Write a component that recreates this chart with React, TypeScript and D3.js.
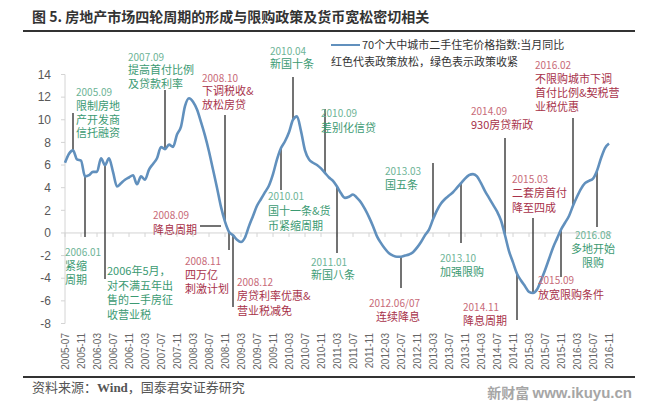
import * as d3 from 'd3';
import React from 'react';

// months 2005-07 .. 2016-11
const months: string[] = d3
  .timeMonths(new Date(2005, 6, 1), new Date(2016, 11, 1))
  .map(d3.timeFormat('%Y-%m'));

// 70个大中城市二手住宅价格指数:当月同比
const values: number[] = [
  6.2, 7.0, 7.3, 6.5, 6.4, 5.0, 5.1, 5.4, 5.4, 6.6, 6.0, 6.6, 5.4, 4.1, 4.4, 4.7,
  4.9, 5.1, 4.3, 5.0, 4.7, 5.6, 6.1, 6.6, 7.6, 7.4, 7.8, 7.6, 8.7, 9.4, 11.2, 11.9,
  11.6, 10.9, 9.8, 8.6, 7.2, 5.6, 4.0, 2.3, 1.0, 0.1, -0.2, -0.6, -0.8, -0.4, 0.6, 1.5,
  2.4, 3.0, 3.6, 4.2, 5.2, 6.5, 7.5, 8.1, 8.9, 10.0, 10.3, 9.0, 7.3, 6.5, 6.2, 6.0,
  5.7, 5.3, 4.9, 4.6, 4.1, 3.5, 3.1, 3.2, 3.4, 3.1, 2.7, 2.1, 1.4, 0.6, -0.3, -0.9,
  -1.4, -1.8, -2.0, -2.1, -2.1, -2.0, -1.9, -1.7, -1.3, -0.8, -0.2, 0.3, 1.2, 2.0, 2.6, 3.0,
  3.3, 3.6, 4.0, 4.4, 4.8, 5.1, 5.2, 5.0, 4.4, 3.7, 3.1, 2.5, 1.9, 1.1, -0.2, -1.6,
  -2.6, -3.6, -4.2, -4.7, -5.2, -5.3, -5.0, -4.2, -3.3, -2.3, -1.3, -0.5, 0.3, 0.9, 1.5, 2.4,
  3.2, 3.9, 4.4, 4.6, 4.8, 5.5, 6.6, 7.5, 7.9,
];

const yTicks: number[] = [-8, -6, -4, -2, 0, 2, 4, 6, 8, 10, 12, 14];
const xTickLabels: string[] = months.filter((_, i) => i % 4 === 0);

interface Note {
  date: string | null;
  lines: string[];
  loose: boolean; // red = 放松, green = 收紧
  at: string; // month where the pointer sits
}

const notes: Note[] = [
  { date: '2005.09', lines: ['限制房地', '产开发商', '信托融资'], loose: false, at: '2005-09' },
  { date: '2006.01', lines: ['紧缩', '周期'], loose: false, at: '2005-12' },
  { date: null, lines: ['2006年5月，', '对不满五年出', '售的二手房征', '收营业税'], loose: false, at: '2006-05' },
  { date: '2007.09', lines: ['提高首付比例', '及贷款利率'], loose: false, at: '2007-08' },
  { date: '2008.10', lines: ['下调税收&', '放松房贷'], loose: true, at: '2008-11' },
  { date: '2008.09', lines: ['降息周期'], loose: true, at: '2008-10' },
  { date: '2008.11', lines: ['四万亿', '刺激计划'], loose: true, at: '2008-12' },
  { date: '2008.12', lines: ['房贷利率优惠&', '营业税减免'], loose: true, at: '2009-01' },
  { date: '2010.04', lines: ['新国十条'], loose: false, at: '2010-04' },
  { date: '2010.01', lines: ['国十一条&货', '币紧缩周期'], loose: false, at: '2010-01' },
  { date: '2010.09', lines: ['差别化信贷'], loose: false, at: '2010-12' },
  { date: '2011.01', lines: ['新国八条'], loose: false, at: '2011-03' },
  { date: '2012.06/07', lines: ['连续降息'], loose: true, at: '2012-07' },
  { date: '2013.03', lines: ['国五条'], loose: false, at: '2013-03' },
  { date: '2013.10', lines: ['加强限购'], loose: false, at: '2013-10' },
  { date: '2014.09', lines: ['930房贷新政'], loose: true, at: '2014-09' },
  { date: '2014.11', lines: ['降息周期'], loose: true, at: '2014-12' },
  { date: '2015.03', lines: ['二套房首付', '降至四成'], loose: true, at: '2015-04' },
  { date: '2015.09', lines: ['放宽限购条件'], loose: true, at: '2015-11' },
  { date: '2016.02', lines: ['不限购城市下调', '首付比例&契税营', '业税优惠'], loose: true, at: '2016-02' },
  { date: '2016.08', lines: ['多地开始', '限购'], loose: false, at: '2016-08' },
];

// layout of each note: text origin, line height, anchor, pointer end
interface NoteLayout {
  tx: number;
  ty: number;
  lh: number;
  anchor?: 'start' | 'middle' | 'end';
  end?: number;
  hx?: number;
}

const noteLayout: NoteLayout[] = [
  { tx: 76, ty: 92, lh: 13.8, end: 113 },
  { tx: 65, ty: 252, lh: 14, end: 237 },
  { tx: 107, ty: 271, lh: 14.7, end: 279 },
  { tx: 128, ty: 57, lh: 13.5, end: 90 },
  { tx: 202, ty: 78, lh: 13.5, end: 115 },
  { tx: 153, ty: 215, lh: 15, hx: 200 },
  { tx: 185, ty: 261, lh: 14, end: 250 },
  { tx: 237, ty: 282, lh: 14.5, end: 307 },
  { tx: 270, ty: 51, lh: 13.5, end: 77 },
  { tx: 268, ty: 196, lh: 15, end: 190 },
  { tx: 321, ty: 113, lh: 15, end: 109 },
  { tx: 311, ty: 262, lh: 13.5, end: 253 },
  { tx: 420, ty: 303, lh: 14, anchor: 'end', end: 288 },
  { tx: 385, ty: 171, lh: 14, end: 163 },
  { tx: 440, ty: 258, lh: 14, end: 243 },
  { tx: 471, ty: 111, lh: 14, end: 138 },
  { tx: 463, ty: 307, lh: 14, end: 320 },
  { tx: 512, ty: 179, lh: 14.5, end: 218 },
  { tx: 538, ty: 280, lh: 15, end: 277 },
  { tx: 535, ty: 65, lh: 14, end: 118 },
  { tx: 593, ty: 235, lh: 14, anchor: 'middle', end: 227 },
];

const W = 657;
const H = 407;
const LINE = '#6190bd';
const CJK = '"Noto Sans CJK SC", "Noto Sans", sans-serif';
const GREEN = '#3b9a72';
const GREEN_L = '#6db497';
const RED = '#a8324a';
const RED_L = '#c86a78';

export default function App() {
  const x = d3.scalePoint<string>().domain(months).range([65, 609]);
  const y = d3.scaleLinear().domain([-8, 14]).range([323.5, 74.5]);

  const line = d3
    .line<number>()
    .x((_, i) => x(months[i]) as number)
    .y((d) => y(d))
    .curve(d3.curveMonotoneX);

  const valueAt = (m: string) => values[months.indexOf(m)];

  return (
    <svg
      width={W}
      height={H}
      viewBox={`0 0 ${W} ${H}`}
      style={{ position: 'absolute', left: 0, top: 0, background: '#fff' }}
    >
      <rect width={W} height={H} fill="#fff" />
      {/* title */}
      <text x={32} y={22} fontFamily={CJK} fontSize={14} fontWeight={700} fill="#333">
        图 5. 房地产市场四轮周期的形成与限购政策及货币宽松密切相关
      </text>
      <line x1={23} x2={635} y1={31} y2={31} stroke="#333" strokeWidth={2} />

      {/* y axis */}
      <line x1={65} x2={65} y1={y(14)} y2={y(-8)} stroke="#d4d4d4" />
      {yTicks.map((t) => (
        <g key={t}>
          <line x1={61} x2={65} y1={y(t)} y2={y(t)} stroke="#d4d4d4" />
          <text
            x={51}
            y={y(t)}
            dy="0.35em"
            textAnchor="end"
            fontFamily="Liberation Sans, Arial, sans-serif"
            fontSize={12}
            fill="#595959"
          >
            {t}
          </text>
        </g>
      ))}

      {/* x axis at zero */}
      <line x1={65} x2={612} y1={y(0)} y2={y(0)} stroke="#d4d4d4" />
      {xTickLabels.map((m) => (
        <g key={m}>
          <line x1={x(m)} x2={x(m)} y1={y(0)} y2={y(0) + 4} stroke="#d4d4d4" />
          <text
            transform={`translate(${x(m)},333) rotate(-90)`}
            textAnchor="end"
            dy="0.35em"
            fontFamily="Liberation Sans, Arial, sans-serif"
            fontSize={10}
            fill="#666"
          >
            {m}
          </text>
        </g>
      ))}

      {/* pointers */}
      {notes.map((n, i) => {
        const L = noteLayout[i];
        const px = x(n.at) as number;
        const py = y(valueAt(n.at));
        if (L.hx !== undefined) {
          return <line key={i} x1={L.hx} x2={px} y1={226} y2={226} stroke="#444" strokeWidth={1.5} />;
        }
        return <line key={i} x1={px} x2={px} y1={py} y2={L.end} stroke="#444" strokeWidth={1.5} />;
      })}

      {/* series */}
      <path d={line(values) || ''} fill="none" stroke={LINE} strokeWidth={2.6} strokeLinejoin="round" />

      {/* note texts */}
      {notes.map((n, i) => {
        const L = noteLayout[i];
        const rows = n.date ? [n.date, ...n.lines] : n.lines;
        return (
          <g key={i} textAnchor={L.anchor || 'start'} fontFamily={CJK}>
            {rows.map((r, j) => {
              const isDate = n.date !== null && j === 0;
              return (
                <text
                  key={j}
                  x={L.tx}
                  y={L.ty + j * L.lh}
                  dy="0.36em"
                  fontSize={isDate ? 10 : 11}
                  fill={n.loose ? (isDate ? RED_L : RED) : isDate ? GREEN_L : GREEN}
                >
                  {r}
                </text>
              );
            })}
          </g>
        );
      })}

      {/* legend */}
      <line x1={331} x2={360} y1={45} y2={45} stroke={LINE} strokeWidth={2} />
      <text x={362} y={45} dy="0.36em" fontFamily={CJK} fontSize={11} fill="#333">
        70个大中城市二手住宅价格指数:当月同比
      </text>
      <text x={331} y={62} dy="0.36em" fontFamily={CJK} fontSize={11} fill="#333">
        红色代表政策放松，绿色表示政策收紧
      </text>

      {/* footer */}
      <line x1={23} x2={635} y1={377} y2={377} stroke="#333" strokeWidth={2} />
      <text x={32} y={392} fontFamily={CJK} fontSize={13} fill="#555">
        资料来源：<tspan fontFamily="Liberation Serif, serif" fontWeight={700}>Wind</tspan>，国泰君安证券研究
      </text>
      <text x={632} y={398} textAnchor="end" fontFamily={CJK} fontSize={14} fontWeight={700} fill="#a6a6a6">
        新财富 <tspan fontFamily="Liberation Sans, Arial, sans-serif" fontSize={15}>www.ikuyu.cn</tspan>
      </text>
    </svg>
  );
}
